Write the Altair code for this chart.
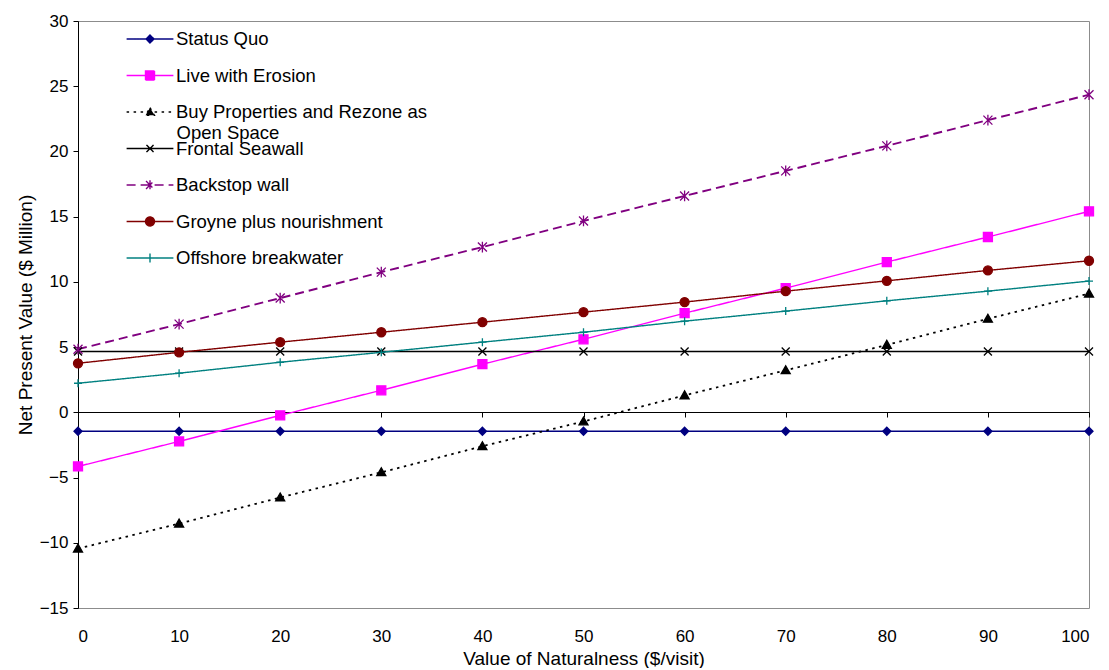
import altair as alt
import pandas as pd

# ---------------- data ----------------
x_values = [0, 10, 20, 30, 40, 50, 60, 70, 80, 90, 100]
y_ticks = [-15, -10, -5, 0, 5, 10, 15, 20, 25, 30]

series_names = [
    "Status Quo",
    "Live with Erosion",
    "Buy Properties and Rezone as Open Space",
    "Frontal Seawall",
    "Backstop wall",
    "Groyne plus nourishment",
    "Offshore breakwater",
]
# the long legend entry wraps after its first line
wrapped_first_line = "Buy Properties and Rezone as"
wrapped_second_line = ["Open Space"]

status_quo = [-1.45, -1.45, -1.45, -1.45, -1.45, -1.45, -1.45, -1.45, -1.45, -1.45, -1.45]
live_with_erosion = [-4.15, -2.23, -0.23, 1.69, 3.69, 5.6, 7.6, 9.52, 11.52, 13.44, 15.41]
buy_properties = [-10.45, -8.53, -6.53, -4.6, -2.6, -0.7, 1.3, 3.22, 5.17, 7.17, 9.1]
frontal_seawall = [4.66, 4.66, 4.66, 4.66, 4.66, 4.66, 4.66, 4.66, 4.66, 4.66, 4.66]
backstop_wall = [4.84, 6.76, 8.76, 10.75, 12.67, 14.67, 16.59, 18.51, 20.43, 22.4, 24.35]
groyne = [3.76, 4.6, 5.38, 6.14, 6.91, 7.68, 8.45, 9.29, 10.08, 10.88, 11.62]
offshore = [2.23, 3.0, 3.84, 4.6, 5.38, 6.14, 6.99, 7.76, 8.55, 9.29, 10.06]

all_values = [status_quo, live_with_erosion, buy_properties, frontal_seawall,
              backstop_wall, groyne, offshore]

# ---------------- styles ----------------
colors = ["#000080", "#FF00FF", "#000000", "#000000", "#800080", "#800000", "#008080"]
dashes = [[1, 0], [1, 0], [2.5, 4.5], [1, 0], [9, 5], [1, 0], [1, 0]]
line_widths = [1.4, 1.4, 1.8, 1.4, 1.9, 1.4, 1.4]
marker_filled = [True, True, True, False, False, True, False]
marker_paths = [
    "M0,-1L1,0L0,1L-1,0Z",
    "M-1,-1H1V1H-1Z",
    "M0,-1L1,0.75L-1,0.75Z",
    "M-1,-1L1,1M-1,1L1,-1",
    "M-1,-1L1,1M-1,1L1,-1M0,-1.2V1.2",
    "M-1,0A1,1,0,1,0,1,0A1,1,0,1,0,-1,0Z",
    "M-1,0H1M0,-1V1",
]
marker_sizes = [64, 81, 81, 64, 81, 81, 64]
legend_paths = [
    "M-1.95,0H1.95M0,-0.33L0.33,0L0,0.33L-0.33,0Z",
    "M-1.95,0H1.95M-0.375,-0.375H0.375V0.375H-0.375Z",
    "M-1.95,0H1.95M0,-0.36L0.37,0.28L-0.37,0.28Z",
    "M-1.95,0H1.95M-0.3,-0.3L0.3,0.3M-0.3,0.3L0.3,-0.3",
    "M-1.95,0H1.95M-0.33,-0.33L0.33,0.33M-0.33,0.33L0.33,-0.33M0,-0.4V0.4",
    "M-1.95,0H1.95M-0.375,0A0.375,0.375,0,1,0,0.375,0A0.375,0.375,0,1,0,-0.375,0Z",
    "M-1.95,0H1.95M0,-0.375V0.375",
]

FONT = "Liberation Sans"

rows = []
for name, vals in zip(series_names, all_values):
    for xv, v in zip(x_values, vals):
        rows.append({"series": name, "x": xv, "npv": v})
df = pd.DataFrame(rows)

x_scale = alt.Scale(domain=[0, 100], nice=False, zero=False)
y_scale = alt.Scale(domain=[-15, 30], nice=False, zero=False)

y_axis = alt.Axis(values=y_ticks, grid=False, domainColor="black", tickColor="black",
                  tickSize=5, labelFontSize=17, labelColor="black", labelFont=FONT,
                  labelPadding=5, title="Net Present Value ($ Million)",
                  titleFont=FONT, titleFontSize=19, titleFontWeight="normal",
                  titleColor="black", titlePadding=4)

x_axis_labels = alt.Axis(orient="bottom", values=x_values, grid=False, domain=False,
                         ticks=False, tickSize=0, labelFontSize=17, labelColor="black",
                         labelFont=FONT, labelPadding=20,
                         title="Value of Naturalness ($/visit)", titleFont=FONT,
                         titleFontSize=19, titleFontWeight="normal",
                         titleColor="black", titlePadding=5)

x_axis_zero = alt.Axis(orient="bottom", values=x_values, grid=False, domain=True,
                       domainColor="black", domainWidth=1, ticks=True,
                       tickColor="black", tickSize=5, labels=False, title=None,
                       offset=-196)

base = alt.Chart(df)

line_layers = []
marker_layers = []
for name, col, dash, lw, path, filled, sz in zip(series_names, colors, dashes, line_widths,
                                                  marker_paths, marker_filled, marker_sizes):
    sub = base.transform_filter(alt.datum.series == name)
    first = len(line_layers) == 0
    line_layers.append(
        sub.mark_line(strokeWidth=lw, stroke=col, strokeDash=dash).encode(
            x=alt.X("x:Q", scale=x_scale, axis=x_axis_labels if first else None),
            y=alt.Y("npv:Q", scale=y_scale, axis=y_axis),
        )
    )
    mk = dict(shape=path, size=sz, opacity=1, strokeWidth=1.3, stroke=col,
              filled=filled)
    if filled:
        mk["fill"] = col
    marker_layers.append(
        sub.mark_point(**mk).encode(
            x=alt.X("x:Q", scale=x_scale, axis=None),
            y=alt.Y("npv:Q", scale=y_scale, axis=y_axis),
        )
    )

label_expr = ("datum.label == 'Buy Properties and Rezone as Open Space' ? '"
              + wrapped_first_line + "' : datum.label")

legend = alt.Legend(title=None, orient="none", legendX=59, legendY=5, padding=0,
                    symbolSize=576, symbolStrokeWidth=1.4, symbolOpacity=1,
                    labelFontSize=18.5, labelFont=FONT, labelColor="black",
                    labelOffset=13, labelLimit=500, rowPadding=13.5,
                    labelExpr=label_expr)

# continuation line of the wrapped legend label
legend_wrap = alt.Legend(title=None, orient="none", legendX=80, legendY=103, padding=0,
                         symbolSize=1, symbolOpacity=0, symbolFillColor="transparent",
                         symbolStrokeColor="transparent", labelFontSize=18.5,
                         labelFont=FONT, labelColor="black", labelOffset=0,
                         labelLimit=500)

legend_layer = base.transform_filter("datum.x < -1000").transform_calculate(
    wrap="'" + wrapped_second_line[0] + "'"
).mark_point(
    filled=True, opacity=1, strokeWidth=1.4
).encode(
    x=alt.X("x:Q", scale=x_scale, axis=x_axis_zero),
    y=alt.Y("npv:Q", scale=y_scale, axis=y_axis),
    shape=alt.Shape("series:N", scale=alt.Scale(domain=series_names, range=legend_paths),
                    legend=legend),
    fill=alt.Fill("series:N", scale=alt.Scale(domain=series_names, range=colors),
                  legend=legend),
    stroke=alt.Stroke("series:N", scale=alt.Scale(domain=series_names, range=colors),
                      legend=legend),
    strokeDash=alt.StrokeDash("series:N", scale=alt.Scale(domain=series_names, range=dashes),
                              legend=legend),
    opacity=alt.Opacity("wrap:O", scale=alt.Scale(domain=wrapped_second_line, range=[0]),
                        legend=legend_wrap),
)

chart = alt.layer(*line_layers, *marker_layers, legend_layer).resolve_axis(
    x="independent"
).properties(
    width=1011,
    height=587,
    autosize=alt.AutoSizeParams(type="none"),
    padding={"left": 70, "top": 13, "right": 10, "bottom": 60},
    background="white",
).configure_view(
    stroke="#8c8c8c", strokeWidth=1
)

chart.save("out.html", embed_options={"renderer": "svg", "actions": False})
